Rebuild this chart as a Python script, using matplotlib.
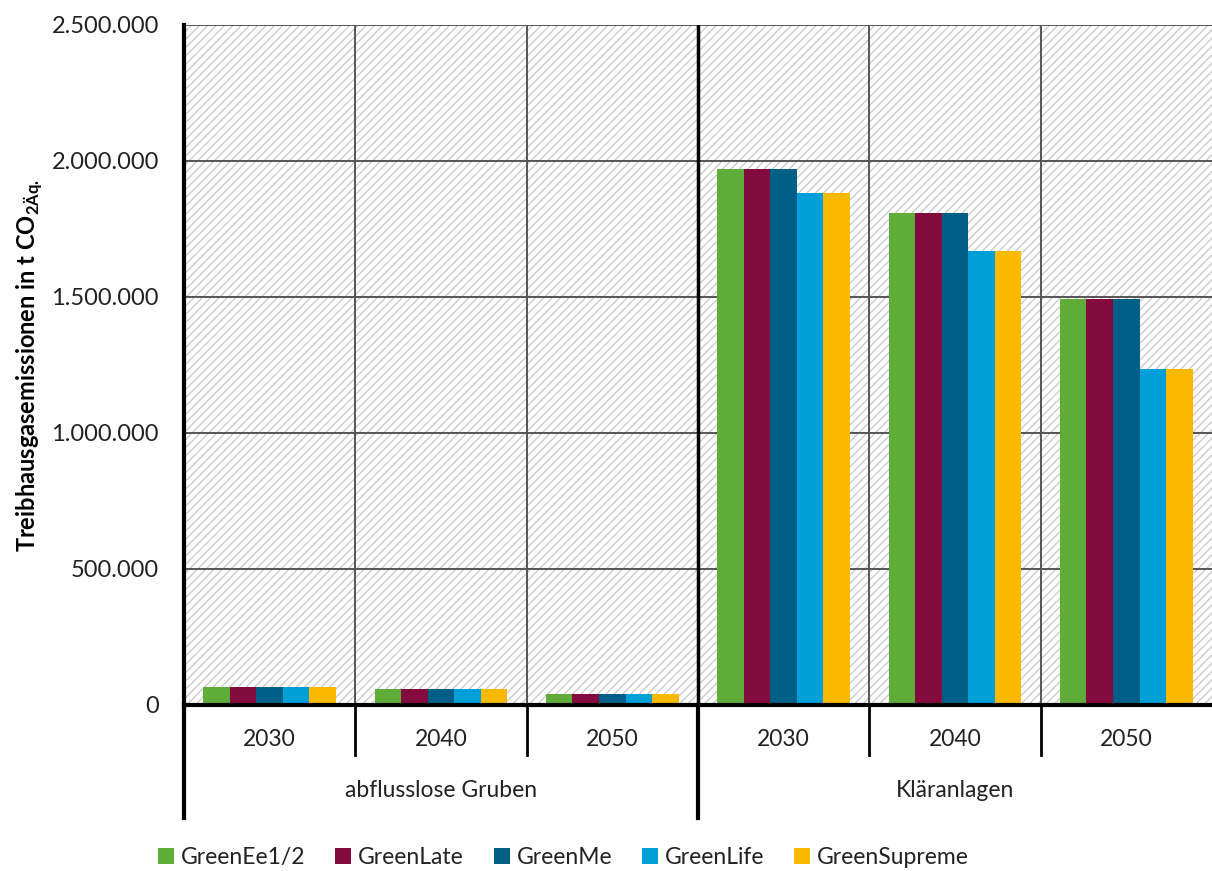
import matplotlib.pyplot as plt
from matplotlib.patches import Rectangle
from matplotlib.ticker import FuncFormatter
import numpy as np

plt.rcParams['font.family'] = ['Lato', 'DejaVu Sans']
plt.rcParams['mathtext.fontset'] = 'custom'
plt.rcParams['mathtext.rm'] = 'Lato'
plt.rcParams['mathtext.bf'] = 'Lato:bold'
plt.rcParams['hatch.linewidth'] = 1.0

groups = ["abflusslose Gruben", "Kläranlagen"]
years = ["2030", "2040", "2050"]
scenarios = ["GreenEe1/2", "GreenLate", "GreenMe", "GreenLife", "GreenSupreme"]
colors = ["#5fad38", "#820a3c", "#005f86", "#009fd8", "#fbba00"]

# one list per scenario, order: Gruben 2030/2040/2050, Kläranlagen 2030/2040/2050
ee12 = [66000, 58000, 39000, 1970000, 1810000, 1494000]
late = [66000, 58000, 39000, 1970000, 1810000, 1494000]
me = [66000, 58000, 39000, 1970000, 1810000, 1494000]
life = [66000, 58000, 39000, 1883000, 1668000, 1234000]
supreme = [66000, 58000, 39000, 1883000, 1668000, 1234000]
series = [ee12, late, me, life, supreme]

fig = plt.figure(figsize=(12.12, 8.71), dpi=100)
ax = fig.add_axes([0.1518, 0.1906, 0.8482, 0.7807])

n_cat = len(groups) * len(years)
x = np.arange(n_cat)
w = 0.155

# hatched background
ax.add_patch(Rectangle((0, 0), 1, 1, transform=ax.transAxes, facecolor="white",
                       edgecolor="#cccccc", hatch="////", lw=0, zorder=0))

for i, (vals, c) in enumerate(zip(series, colors)):
    ax.bar(x + (i - 2) * w, vals, width=w, color=c, label=scenarios[i], zorder=3)

ax.set_xlim(-0.5, n_cat - 0.5)
ax.set_ylim(0, 2500000)
ax.set_yticks(np.arange(0, 2500001, 500000))
ax.yaxis.set_major_formatter(FuncFormatter(lambda v, p: f"{int(v):,}".replace(",", ".")))
ax.tick_params(axis="y", length=0, pad=18, labelsize=17, colors="#222222")
ax.set_xticks([])

for yv in np.arange(500000, 2500001, 500000):
    ax.axhline(yv, color="#555555", lw=1.4, zorder=1)
for xv in [0.5, 1.5, 3.5, 4.5]:
    ax.axvline(xv, color="#555555", lw=1.4, zorder=1)
ax.axvline(2.5, color="black", lw=2.5, zorder=2)

for s in ["top", "right"]:
    ax.spines[s].set_visible(False)
ax.spines["left"].set_linewidth(3)
ax.spines["bottom"].set_linewidth(3)
ax.spines["left"].set_zorder(5)
ax.spines["bottom"].set_zorder(5)

# category axis below the plot
tr = ax.get_xaxis_transform()
year_drop = -50 / 680
grp_drop = -113 / 680
for xv in [0.5, 1.5, 3.5, 4.5]:
    ax.plot([xv, xv], [0, year_drop], color="black", lw=2, transform=tr, clip_on=False)
for xv in [-0.5, 2.5]:
    ax.plot([xv, xv], [0, grp_drop], color="black", lw=3, transform=tr, clip_on=False)
for k in range(n_cat):
    ax.text(x[k], -35 / 680, years[k % 3], transform=tr, ha="center", va="center",
            fontsize=16.5, color="#222222")
for g, name in enumerate(groups):
    ax.text(g * 3 + 1, -86 / 680, name, transform=tr, ha="center", va="center",
            fontsize=16.5, color="#222222")

fig.text(30 / 1212, 1 - 366 / 871,
         r"Treibhausgasemissionen in t CO$_{\mathbf{2Äq.}}$",
         rotation=90, ha="center", va="center", fontsize=17, fontweight="bold")

fig.legend(loc="center", bbox_to_anchor=(0.465, 0.015), ncol=5, frameon=False,
           fontsize=16.5, handlelength=0.7, handleheight=0.7, handletextpad=0.3,
           columnspacing=1.3, labelcolor="#222222")

fig.savefig("out.png", dpi=100)
